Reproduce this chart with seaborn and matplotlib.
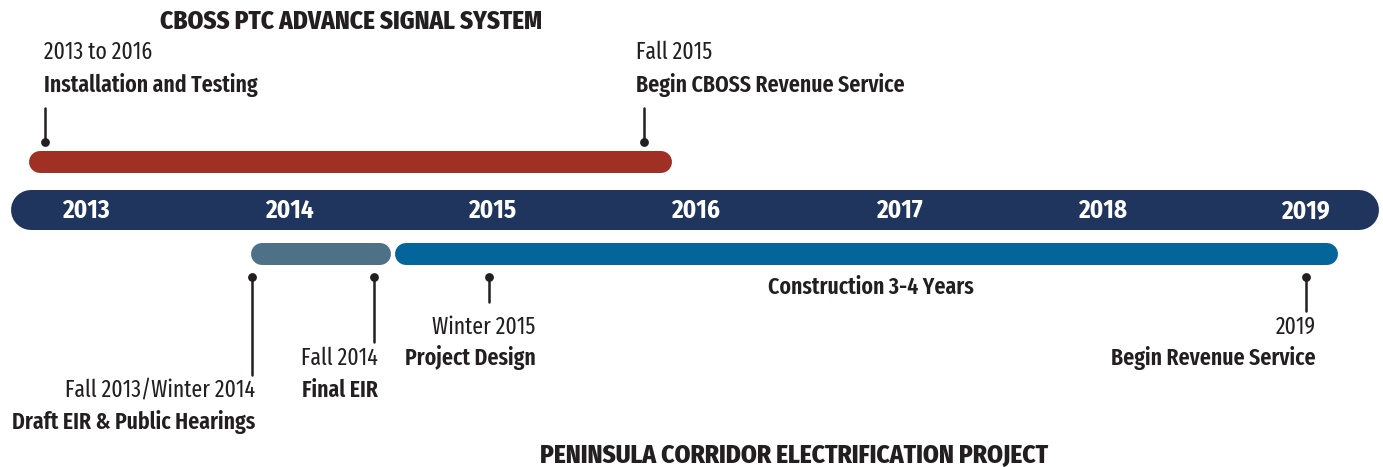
import matplotlib
matplotlib.use("Agg")
import matplotlib.pyplot as plt
import seaborn as sns
import pandas as pd

# timeline data (x in years, year label centres at whole years)
years = [2013, 2014, 2015, 2016, 2017, 2018, 2019]
axis_span = (2012.63, 2019.36)

cboss_span = (2012.72, 2015.88)
eir_span = (2013.81, 2014.50)
construction_span = (2014.52, 2019.16)

cboss_events = [2012.80, 2015.745]
cboss_dates = ["2013 to 2016", "Fall 2015"]
cboss_names = ["Installation and Testing", "Begin CBOSS Revenue Service"]

pcep_events = [2013.817, 2014.417, 2014.98, 2019.0]
pcep_dates = ["Fall 2013/Winter 2014", "Fall 2014", "Winter 2015", "2019"]
pcep_names = ["Draft EIR & Public Hearings", "Final EIR", "Project Design", "Begin Revenue Service"]

NAVY = "#1f355e"
RED = "#a03024"
SLATE = "#4f7187"
BLUE = "#04659a"
INK = "#231f20"

sns.set_style("white")
plt.rcParams["font.family"] = ["Fira Sans Condensed", "DejaVu Sans"]
LABEL_FONT = ["Fira Sans Extra Condensed", "Fira Sans Condensed", "DejaVu Sans"]

W, H, DPI = 1383, 467, 100
fig = plt.figure(figsize=(W / DPI, H / DPI), dpi=DPI)
ax = fig.add_axes([0, 0, 1, 1])
PX = 203.3  # pixels per year
x0 = 2013 - 86 / PX
ax.set_xlim(x0, x0 + W / PX)
ax.set_ylim(H, 0)
ax.axis("off")


def bar(span, y, h, color):
    # rounded bar: thick line with round caps, ends pulled in by half height
    inset = (h / 2) / PX
    ax.plot([span[0] + inset, span[1] - inset], [y, y], color=color,
            lw=h * 72 / DPI, solid_capstyle="round", zorder=2)


bar(axis_span, 210, 40, NAVY)
bar(cboss_span, 162, 22, RED)
bar(eir_span, 254, 22, SLATE)
bar(construction_span, 254, 22, BLUE)

for yr in years:
    ax.text(yr, 211, str(yr), color="white", fontsize=18, fontweight="bold",
            ha="center", va="center", zorder=3)

# event markers
stem_top = [108, 108]
for x, top in zip(cboss_events, stem_top):
    ax.plot([x, x], [top, 142], color=INK, lw=1.8, zorder=2)
stem_bottom = [375, 342, 302, 311]
for x, bot in zip(pcep_events, stem_bottom):
    ax.plot([x, x], [277, bot], color=INK, lw=1.8, zorder=2)

dots = pd.DataFrame({"x": cboss_events + pcep_events,
                     "y": [142, 142, 277, 277, 277, 277]})
sns.scatterplot(data=dots, x="x", y="y", color=INK, s=40, edgecolor=INK,
                linewidth=0, zorder=3, ax=ax, legend=False)
ax.set_xlabel("")
ax.set_ylabel("")

FS = 17
# upper labels
for x, d, n, dx in zip(cboss_events, cboss_dates, cboss_names, [-1, -8]):
    ax.annotate(d, (x, 52), xytext=(dx, 0), textcoords="offset pixels", family=LABEL_FONT,
                ha="left", va="center", fontsize=FS, color=INK)
    ax.annotate(n, (x, 85), xytext=(dx, 0), textcoords="offset pixels", family=LABEL_FONT,
                ha="left", va="center", fontsize=FS, color=INK, fontweight=600)

# lower labels
date_y = [390, 358, 327, 327]
name_y = [422, 390, 358, 358]
offsets = [3, 4, 47, 10]
for x, d, n, dy, ny, dx in zip(pcep_events, pcep_dates, pcep_names, date_y, name_y, offsets):
    ax.annotate(d, (x, dy), xytext=(dx, 0), textcoords="offset pixels", family=LABEL_FONT,
                ha="right", va="center", fontsize=FS, color=INK)
    ax.annotate(n, (x, ny), xytext=(dx, 0), textcoords="offset pixels", family=LABEL_FONT,
                ha="right", va="center", fontsize=FS, color=INK, fontweight=600)

ax.text(sum(construction_span) / 2 + 0.02, 287, "Construction 3-4 Years", ha="center",
        va="center", fontsize=FS, color=INK, fontweight=600, family=LABEL_FONT)

ax.text(x0 + 351 / PX, 22, "CBOSS PTC ADVANCE SIGNAL SYSTEM", ha="center", va="center",
        fontsize=18, color=INK, fontweight=800)
ax.text(x0 + 794 / PX, 456, "PENINSULA CORRIDOR ELECTRIFICATION PROJECT", ha="center",
        va="center", fontsize=18.2, color=INK, fontweight=800)

fig.savefig("out.png", dpi=DPI)
